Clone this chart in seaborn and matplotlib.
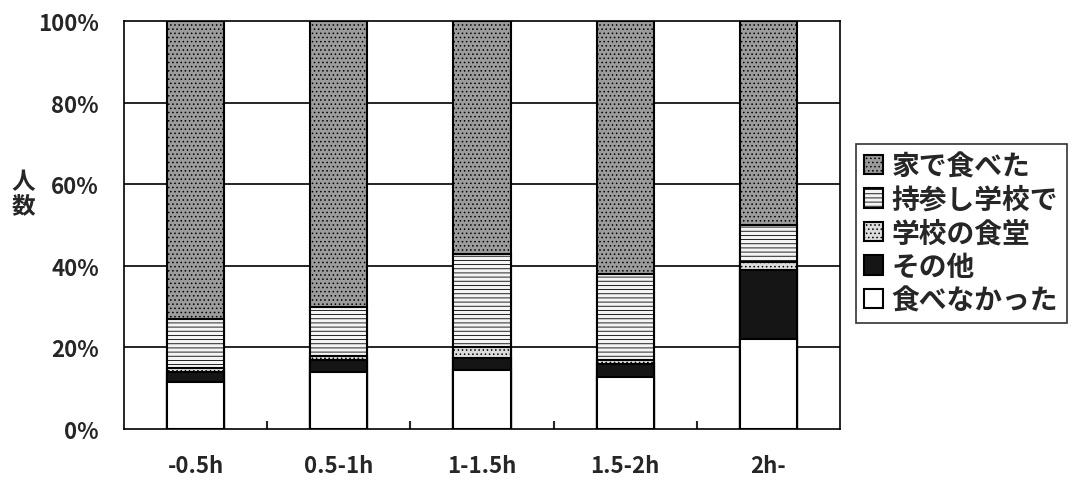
import numpy as np
import pandas as pd
import seaborn as sns
import matplotlib.pyplot as plt

# data (percent of respondents)
groups = ["-0.5h", "0.5-1h", "1-1.5h", "1.5-2h", "2h-"]
no_eat = [11.5, 14, 14.5, 12.7, 22]
other = [2.5, 3, 3, 3.3, 17]
cafeteria = [1, 1, 2.5, 1, 2]
bento = [12, 12, 23, 21, 9]
home = [73, 70, 57, 62, 50]

categories = ["家で食べた", "持参し学校で", "学校の食堂", "その他", "食べなかった"]

sns.set_style("white")
plt.rcParams['font.family'] = ['Noto Sans CJK JP', 'DejaVu Sans']
plt.rcParams['hatch.linewidth'] = 0.6

df = pd.DataFrame({"group": groups, "食べなかった": no_eat, "その他": other,
                   "学校の食堂": cafeteria, "持参し学校で": bento, "家で食べた": home})

# cumulative tops, drawn from the tallest down so each layer covers the next
stack_order = ["食べなかった", "その他", "学校の食堂", "持参し学校で", "家で食べた"]
cum = df[stack_order].cumsum(axis=1)

styles = {
    "家で食べた": dict(color="#9c9c9c", hatch="...."),
    "持参し学校で": dict(color="#f4f4f4", hatch="----"),
    "学校の食堂": dict(color="#dcdcdc", hatch="...."),
    "その他": dict(color="#151515", hatch=""),
    "食べなかった": dict(color="white", hatch=""),
}

fig = plt.figure(figsize=(10.81, 4.81), dpi=100)
ax = fig.add_axes([0.1147, 0.106, 0.6623, 0.848])

for cat in stack_order[::-1]:
    sns.barplot(x=df["group"], y=cum[cat], ax=ax, color=styles[cat]["color"],
                width=0.4, edgecolor="black", linewidth=1.5,
                hatch=styles[cat]["hatch"], label=cat, saturation=1)

ax.set_ylim(0, 100)
ax.set_xlim(-0.5, 4.5)
ax.set_yticks([0, 20, 40, 60, 80, 100])
ax.set_yticklabels(["0%", "20%", "40%", "60%", "80%", "100%"])
for y in [20, 40, 60, 80]:
    ax.axhline(y, color="black", lw=1.2, zorder=0)
ax.set_xticks(np.arange(0.5, 4.5, 1), minor=True)
ax.tick_params(axis="x", which="minor", length=6, width=1.5, direction="in", bottom=True)
ax.tick_params(axis="x", which="major", length=0, pad=18, labelsize=16)
ax.tick_params(axis="y", length=0, pad=18, labelsize=16)
for lab in ax.get_xticklabels() + ax.get_yticklabels():
    lab.set_fontweight("bold")
for s in ax.spines.values():
    s.set_color("black")
    s.set_linewidth(1.2)
ax.set_xlabel("")
ax.set_ylabel("人\n数", rotation=0, fontsize=17, fontweight="bold", labelpad=0,
              linespacing=1.0)
ax.yaxis.set_label_coords(-0.14, 0.52)

handles, labels = ax.get_legend_handles_labels()
leg = ax.legend(handles, labels, loc="center left", bbox_to_anchor=(1.022, 0.48),
                fontsize=20, frameon=True, fancybox=False, edgecolor="black",
                handlelength=0.7, handleheight=0.7, handletextpad=0.3,
                labelspacing=0.2, borderpad=0.3, borderaxespad=0)
leg.get_frame().set_linewidth(1.2)
for t in leg.get_texts():
    t.set_fontweight("bold")

plt.savefig("out.png", dpi=100)
